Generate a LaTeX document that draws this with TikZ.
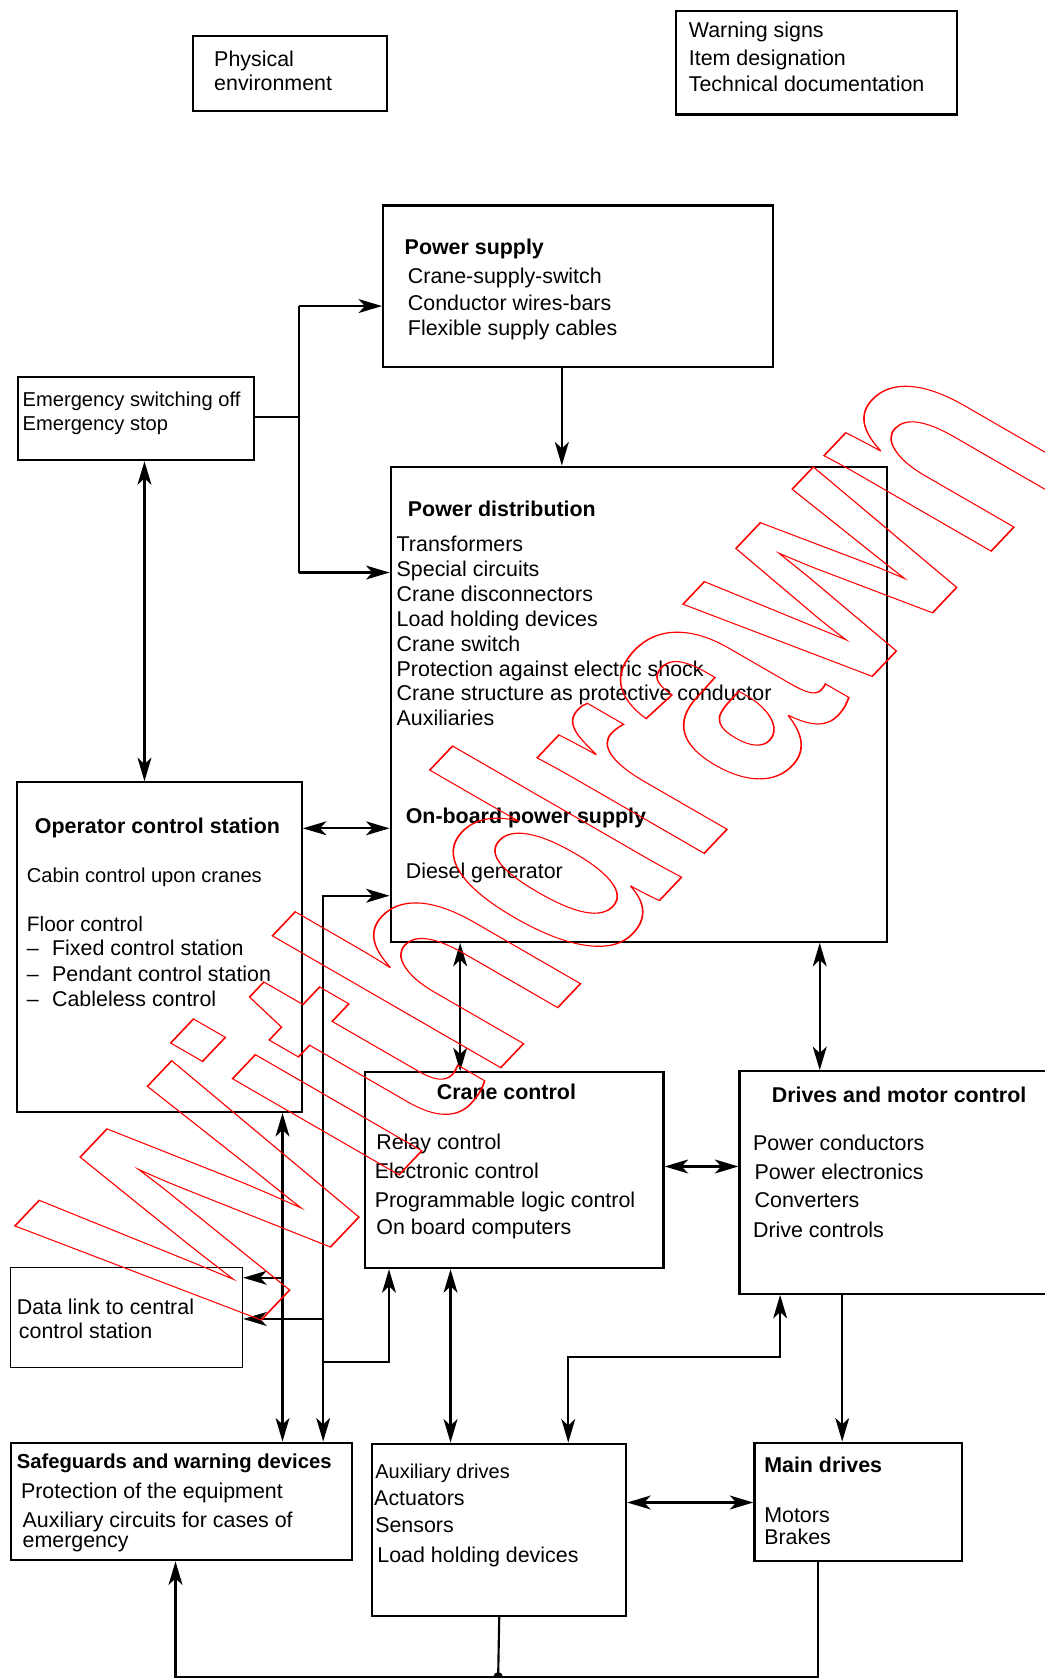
\documentclass[tikz,border=0pt]{standalone}
\usepackage{fontspec}
\setmainfont{Liberation Sans}
\usetikzlibrary{arrows.meta}
\tikzset{
  box/.style={draw, line width=2pt, inner sep=0pt, anchor=north west},
  txt/.style={inner sep=0pt, anchor=base west, font=\fontsize{20}{23}\selectfont},
  ttl/.style={txt, font=\fontsize{20}{23}\selectfont\bfseries},
  conn/.style={line width=2pt},
}
\newcommand\dtxt[4]{\node[txt] (#1) at (#2,#3) {#4};}
\newcommand\dttl[4]{\node[ttl] (#1) at (#2,#3) {#4};}
\newcommand\dtxs[5]{\node[txt, font=\fontsize{#1}{23}\selectfont] (#2) at (#3,#4) {#5};}
\begin{document}
\begin{tikzpicture}[x=1pt, y=-1pt, >={Stealth[length=22pt,width=13pt,inset=6pt]}]
\fill[white] (0,0) rectangle (976,1568);
\useasboundingbox (0,0) rectangle (976,1568);

% boxes
\node[box, minimum width=182pt, minimum height=70pt] (pe) at (179,33) {};
\node[box, minimum width=262pt, minimum height=97pt] (ws) at (631,9) {};
\node[box, minimum width=364pt, minimum height=151pt] (ps) at (357,191) {};
\node[box, minimum width=220pt, minimum height=78pt] (em) at (16,351) {};
\node[box, minimum width=464pt, minimum height=444pt] (pd) at (364,435) {};
\node[box, minimum width=266pt, minimum height=308pt] (op) at (15,730) {};
\node[box, minimum width=279pt, minimum height=183pt] (cc) at (340,1001) {};
\node[box, minimum width=330pt, minimum height=208pt] (dm) at (690,1000) {};
\node[box, line width=1.2pt, minimum width=217pt, minimum height=93pt] (dl) at (9,1184) {};
\node[box, minimum width=319pt, minimum height=110pt] (sg) at (9,1347) {};
\node[box, minimum width=237pt, minimum height=161pt] (ax) at (347,1348) {};
\node[box, minimum width=194pt, minimum height=111pt] (md) at (704,1347) {};

% texts
\dtxt{pe1}{200}{62.3}{Physical}
\dtxt{pe2}{200}{84.8}{environment}
\dtxt{ws1}{643.5}{34.9}{Warning signs}
\dtxt{ws2}{643.5}{60.8}{Item designation}
\dtxt{ws3}{643.5}{85.7}{Technical documentation}

\dttl{ps0}{378}{237.5}{Power supply}
\dtxt{ps1}{381}{265}{Crane-supply-switch}
\dtxt{ps2}{381}{290.4}{Conductor wires-bars}
\dtxt{ps3}{381}{313.2}{Flexible supply cables}

\dtxs{18.8}{em1}{21}{379.5}{Emergency switching off}
\dtxs{18.8}{em2}{21}{402.6}{Emergency stop}

\dttl{pd0}{381}{482.4}{Power distribution}
\dtxt{pd1}{370.5}{515.7}{Transformers}
\dtxt{pd2}{370.5}{538.9}{Special circuits}
\dtxt{pd3}{370.5}{562.1}{Crane disconnectors}
\dtxt{pd4}{370.5}{585.3}{Load holding devices}
\dtxt{pd5}{370.5}{608.5}{Crane switch}
\dtxt{pd6}{370.5}{631.7}{Protection against electric shock}
\dtxt{pd7}{370.5}{654.9}{Crane structure as protective conductor}
\dtxt{pd8}{370.5}{678.1}{Auxiliaries}
\dttl{pd9}{379}{769.7}{On-board power supply}
\dtxt{pd10}{379}{821.1}{Diesel generator}

\dttl{op0}{32.5}{778.4}{Operator control station}
\dtxs{18.8}{op1}{25}{824.2}{Cabin control upon cranes}
\dtxs{19.5}{op2}{25}{870}{Floor control}
\dtxt{op3}{25}{892.8}{–}
\dtxt{op4}{48.5}{892.8}{Fixed control station}
\dtxt{op5}{25}{916.8}{–}
\dtxt{op6}{48.5}{916.8}{Pendant control station}
\dtxt{op7}{25}{940.1}{–}
\dtxt{op8}{48.5}{940.1}{Cableless control}

\dttl{cc0}{408}{1027.7}{Crane control}
\dtxt{cc1}{351.5}{1074.5}{Relay control}
\dtxt{cc2}{350}{1101.6}{Electronic control}
\dtxt{cc3}{350}{1128.1}{Programmable logic control}
\dtxt{cc4}{351.5}{1153.6}{On board computers}

\dttl{dm0}{721}{1029.9}{Drives and motor control}
\dtxt{dm1}{703.5}{1075.1}{Power conductors}
\dtxt{dm2}{705}{1102.2}{Power electronics}
\dtxt{dm3}{705}{1128.1}{Converters}
\dtxt{dm4}{703.5}{1156.1}{Drive controls}

\dtxt{dl1}{15.5}{1228.4}{Data link to central}
\dtxt{dl2}{17.5}{1250.4}{control station}

\node[ttl, font=\fontsize{18.9}{23}\selectfont\bfseries] (sg0) at (15.5,1372.5) {Safeguards and warning devices};
\dtxt{sg1}{19.5}{1399.9}{Protection of the equipment}
\dtxt{sg2}{21}{1427}{Auxiliary circuits for cases of}
\dtxt{sg3}{21}{1446.5}{emergency}

\dtxs{18.7}{ax1}{350.5}{1382}{Auxiliary drives}
\dtxt{ax2}{349.5}{1406.9}{Actuators}
\dtxt{ax3}{350.5}{1431.9}{Sensors}
\dtxt{ax4}{352.5}{1460}{Load holding devices}

\dttl{md0}{714}{1375.8}{Main drives}
\dtxt{md1}{714}{1422.5}{Motors}
\dtxt{md2}{714}{1442.8}{Brakes}

% connectors
\coordinate (jx) at (279.5,286);
\coordinate (jy) at (279.5,535);
\draw[conn] ([yshift=1.5pt]em.east) -- ([yshift=1.5pt]em.east -| jx);
\draw[conn] (jx) -- (jy);
\draw[conn,->] (jx) -- (jx -| ps.west);
\draw[conn,->] (jy) -- (jy -| pd.west);

\draw[conn,->] ([xshift=168pt]ps.south west) -- ([xshift=161pt]pd.north west);
\draw[conn,<->] ([xshift=119pt]em.south west) -- ([xshift=120pt]op.north west);
\draw[conn,<->] ([yshift=-44pt]op.north east) -- ([yshift=-339pt]pd.north west);

\draw[conn,<->] ([xshift=293pt]sg.north west) |- ([yshift=-402pt]pd.north west);
\coordinate (b1) at (302,1232.5);
\draw[conn,->] (b1) -- (b1 -| dl.east);
\coordinate (b2) at (302,1273);
\draw[conn,->] (b2) -| ([xshift=23.5pt]cc.south west);

\draw[conn,<->] ([xshift=249pt]op.south west) -- ([xshift=255pt]sg.north west);
\coordinate (b3) at (264,1194);
\draw[conn,->] (b3) -- (b3 -| dl.east);

\draw[conn,<->] ([xshift=66pt]pd.south west) -- ([xshift=90pt]cc.north west);
\draw[conn,<->] ([xshift=402pt]pd.south west) -- ([xshift=76pt]dm.north west);
\draw[conn,<->] ([yshift=-89pt]cc.north east) -- ([yshift=-90pt]dm.north west);
\draw[conn,<->] ([xshift=81pt]cc.south west) -- ([xshift=74pt]ax.north west);
\draw[conn,<->] ([xshift=184pt]ax.north west) -- ++(0,-80) -| ([xshift=39pt]dm.south west);
\draw[conn,->] ([xshift=97pt]dm.south west) -- ([xshift=83pt]md.north west);
\draw[conn,<->] ([yshift=-56pt]ax.north east) -- ([yshift=-57pt]md.north west);

\coordinate (bt) at (465.5,1567);
\draw[conn] (ax.south) -- (bt);
\fill (bt) circle (4.5pt);
\draw[conn,->] (bt) -| ([xshift=155pt]sg.south west);
\draw[conn] (bt) -| ([xshift=60pt]md.south west);

% watermark
\begin{scope}[shift={(216,1263)}, cm={1.556,1.639,-2.944,1.70,(0,0)}]
\node[transform shape, inner sep=0pt, anchor=base west, text=red,
      font=\fontsize{100}{100}\selectfont\bfseries] (wm) at (0,0)
  {\special{pdf:code 1 0 0 RG 0.45 w 1 Tr}Withdrawn\special{pdf:code 0 Tr}};
\end{scope}
\end{tikzpicture}
\end{document}
